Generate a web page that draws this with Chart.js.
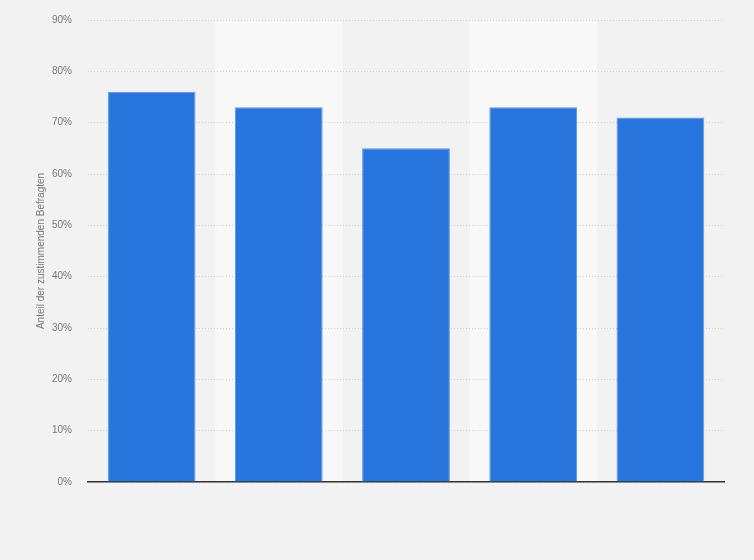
<!DOCTYPE html>
<html>
<head>
<meta charset="utf-8">
<script src="https://cdn.jsdelivr.net/npm/chart.js@4/dist/chart.umd.min.js"></script>
<style>
html,body{margin:0;padding:0;background:#f2f2f2}
#wrap{width:754px;height:560px;position:relative}
</style>
</head>
<body>
<div id="wrap"><canvas id="graph"></canvas></div>
<script>
const categories = ['', '', '', '', '']
const values = [76, 73, 65, 73, 71]
const yTicks = [0, 10, 20, 30, 40, 50, 60, 70, 80, 90]

// lighter background behind every second column, drawn under grid and axis
const bands = {
    id: 'bands',
    beforeDraw(chart){
        const ctx = chart.ctx, x = chart.scales.x, area = chart.chartArea
        const w = (area.right - area.left) / categories.length
        ctx.save()
        ctx.fillStyle = '#f8f8f8'
        categories.forEach((c, i) => {
            if(i % 2 === 1){
                const cx = x.getPixelForValue(i)
                ctx.fillRect(cx - w/2, area.top, w, area.bottom - area.top)
            }
        })
        ctx.restore()
    }
}

Chart.defaults.font.family = '"Liberation Sans", Arial, sans-serif'
Chart.defaults.color = '#666'

new Chart('graph', {
    type: 'bar',
    data: {
        labels: categories,
        datasets: [{
            data: values,
            backgroundColor: '#2876dd',
            borderColor: '#5b98e8',
            borderWidth: 1,
            categoryPercentage: 1,
            barPercentage: 0.69
        }]
    },
    options: {
        responsive: true,
        maintainAspectRatio: false,
        animation: false,
        layout: {padding: {top: 20, right: 30, bottom: 70, left: 0}},
        plugins: {legend: {display: false}, tooltip: {enabled: false}},
        scales: {
            x: {
                ticks: {display: false},
                grid: {display: false},
                border: {display: true, color: '#333', width: 1.5}
            },
            y: {
                min: 0, max: 90,
                afterBuildTicks(scale){ scale.ticks = yTicks.map(v => ({value: v})) },
                afterFit(scale){
                    scale.width = 88
                    scale.paddingTop = 0
                    scale.paddingBottom = 0
                },
                ticks: {
                    callback: v => v + '%',
                    font: {size: 10},
                    color: '#777',
                    padding: 16
                },
                grid: {color: '#cfcfcf', drawTicks: false},
                border: {display: false, dash: [1, 2]},
                title: {
                    display: true,
                    text: 'Anteil der zustimmenden Befragten',
                    font: {size: 10},
                    color: '#777',
                    padding: {top: 35, bottom: 0}
                }
            }
        }
    },
    plugins: [bands]
})
</script>
</body>
</html>
